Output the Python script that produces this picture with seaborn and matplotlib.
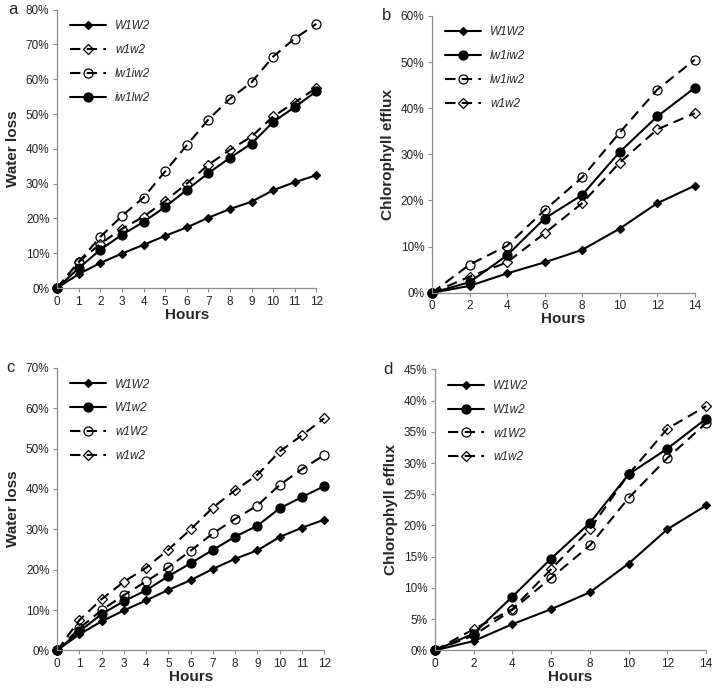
import matplotlib
matplotlib.use("Agg")
import matplotlib.pyplot as plt
import seaborn as sns
from matplotlib.ticker import PercentFormatter

sns.set_style("white")
plt.rcParams["font.family"] = ["Liberation Sans", "DejaVu Sans"]

hours_12 = list(range(13))
hours_14 = [0, 2, 4, 6, 8, 10, 12, 14]

# panel a: water loss
a_W1W2 = [0, 4.0, 7.2, 9.9, 12.4, 15.0, 17.4, 20.2, 22.7, 24.8, 28.1, 30.4, 32.4]
a_w1w2 = [0, 7.5, 12.7, 17.0, 20.5, 25.0, 30.0, 35.4, 39.7, 43.5, 49.3, 53.3, 57.5]
a_lw1iw2 = [0, 7.5, 14.7, 20.7, 26.0, 33.5, 41.0, 48.4, 54.4, 59.1, 66.5, 71.7, 75.9]
a_iw1lw2 = [0, 5.7, 11.0, 15.3, 19.0, 23.3, 28.2, 33.0, 37.4, 41.5, 47.7, 52.0, 56.5]

# panel b: chlorophyll efflux
b_W1W2 = [0, 1.5, 4.2, 6.6, 9.3, 13.9, 19.4, 23.2]
b_lw1iw2_solid = [0, 2.3, 8.1, 16.1, 21.2, 30.5, 38.2, 44.4]
b_lw1iw2_dash = [0, 6.1, 10.2, 17.9, 25.0, 34.7, 44.0, 50.5]
b_w1w2 = [0, 3.5, 6.6, 12.9, 19.4, 28.2, 35.4, 38.9]

# panel c: water loss
c_W1W2 = [0, 4.0, 7.2, 9.9, 12.4, 15.0, 17.4, 20.2, 22.7, 24.8, 28.1, 30.4, 32.4]
c_W1w2 = [0, 4.7, 9.0, 12.2, 14.9, 18.4, 21.6, 24.9, 28.2, 30.9, 35.2, 38.0, 40.7]
c_w1W2 = [0, 5.5, 10.0, 13.7, 17.1, 20.6, 24.7, 29.0, 32.6, 35.9, 41.0, 44.9, 48.4]
c_w1w2 = [0, 7.5, 12.7, 17.0, 20.5, 25.0, 30.0, 35.4, 39.7, 43.5, 49.3, 53.3, 57.5]

# panel d: chlorophyll efflux
d_W1W2 = [0, 1.5, 4.2, 6.6, 9.3, 13.9, 19.4, 23.2]
d_W1w2 = [0, 2.7, 8.6, 14.7, 20.4, 28.2, 32.3, 37.1]
d_w1W2 = [0, 2.4, 6.5, 11.6, 16.8, 24.4, 30.8, 36.4]
d_w1w2 = [0, 3.4, 6.6, 13.0, 19.4, 28.2, 35.5, 39.1]

STYLES = {
    "dia_solid": dict(linestyle="-", marker="D", markersize=4, markerfacecolor="black"),
    "dot_solid": dict(linestyle="-", marker="o", markersize=6.5, markerfacecolor="black"),
    "circ_dash": dict(linestyle=(0, (5, 3)), marker="o", markersize=6.5, markerfacecolor="none"),
    "dia_dash": dict(linestyle=(0, (5, 3)), marker="D", markersize=5, markerfacecolor="none"),
}


def draw_panel(ax, x, series, ymax, ystep, xticks, ylabel, letter):
    for label, vals, style in series:
        sns.lineplot(x=x, y=vals, ax=ax, color="black", linewidth=1.5,
                     markeredgecolor="black", markeredgewidth=0.9,
                     label=label, **STYLES[style])
    ax.set_xlim(0, x[-1])
    ax.set_ylim(0, ymax)
    ax.set_yticks([v for v in range(0, ymax + 1, ystep)])
    ax.set_xticks(xticks)
    ax.yaxis.set_major_formatter(PercentFormatter(decimals=0))
    ax.set_xlabel("Hours", fontsize=11, fontweight="bold", labelpad=0)
    ax.set_ylabel(ylabel, fontsize=11, fontweight="bold")
    for side in ["top", "right"]:
        ax.spines[side].set_visible(False)
    for side in ["left", "bottom"]:
        ax.spines[side].set_color("#8c8c8c")
        ax.spines[side].set_linewidth(0.9)
    ax.tick_params(axis="both", direction="out", length=3, width=0.8, pad=2.5,
                   color="#8c8c8c", labelsize=8.5, labelcolor="#222222", left=True, bottom=True)
    for m in ax.lines:
        m.set_clip_on(False)
    ax.legend(loc="upper left", bbox_to_anchor=(0.01, 1.0), frameon=False,
              handlelength=3.0, labelspacing=1.0,
              prop={"style": "italic", "size": 8.5})
    ax.text(-0.19, 1.0, letter, transform=ax.transAxes, fontsize=12, va="center")


fig = plt.figure(figsize=(7.14, 6.89), dpi=100)
ax_a = fig.add_axes([0.080, 0.582, 0.363, 0.404])
ax_b = fig.add_axes([0.605, 0.575, 0.368, 0.402])
ax_c = fig.add_axes([0.080, 0.056, 0.374, 0.410])
ax_d = fig.add_axes([0.609, 0.056, 0.380, 0.408])

draw_panel(ax_a, hours_12, [
    ("W1W2", a_W1W2, "dia_solid"),
    ("w1w2", a_w1w2, "dia_dash"),
    ("lw1iw2", a_lw1iw2, "circ_dash"),
    ("iw1lw2", a_iw1lw2, "dot_solid"),
], 80, 10, hours_12, "Water loss", "a")

draw_panel(ax_b, hours_14, [
    ("W1W2", b_W1W2, "dia_solid"),
    ("lw1iw2", b_lw1iw2_solid, "dot_solid"),
    ("lw1iw2", b_lw1iw2_dash, "circ_dash"),
    ("w1w2", b_w1w2, "dia_dash"),
], 60, 10, hours_14, "Chlorophyll efflux", "b")

draw_panel(ax_c, hours_12, [
    ("W1W2", c_W1W2, "dia_solid"),
    ("W1w2", c_W1w2, "dot_solid"),
    ("w1W2", c_w1W2, "circ_dash"),
    ("w1w2", c_w1w2, "dia_dash"),
], 70, 10, hours_12, "Water loss", "c")

draw_panel(ax_d, hours_14, [
    ("W1W2", d_W1W2, "dia_solid"),
    ("W1w2", d_W1w2, "dot_solid"),
    ("w1W2", d_w1W2, "circ_dash"),
    ("w1w2", d_w1w2, "dia_dash"),
], 45, 5, hours_14, "Chlorophyll efflux", "d")

fig.savefig("out.png", dpi=100)
